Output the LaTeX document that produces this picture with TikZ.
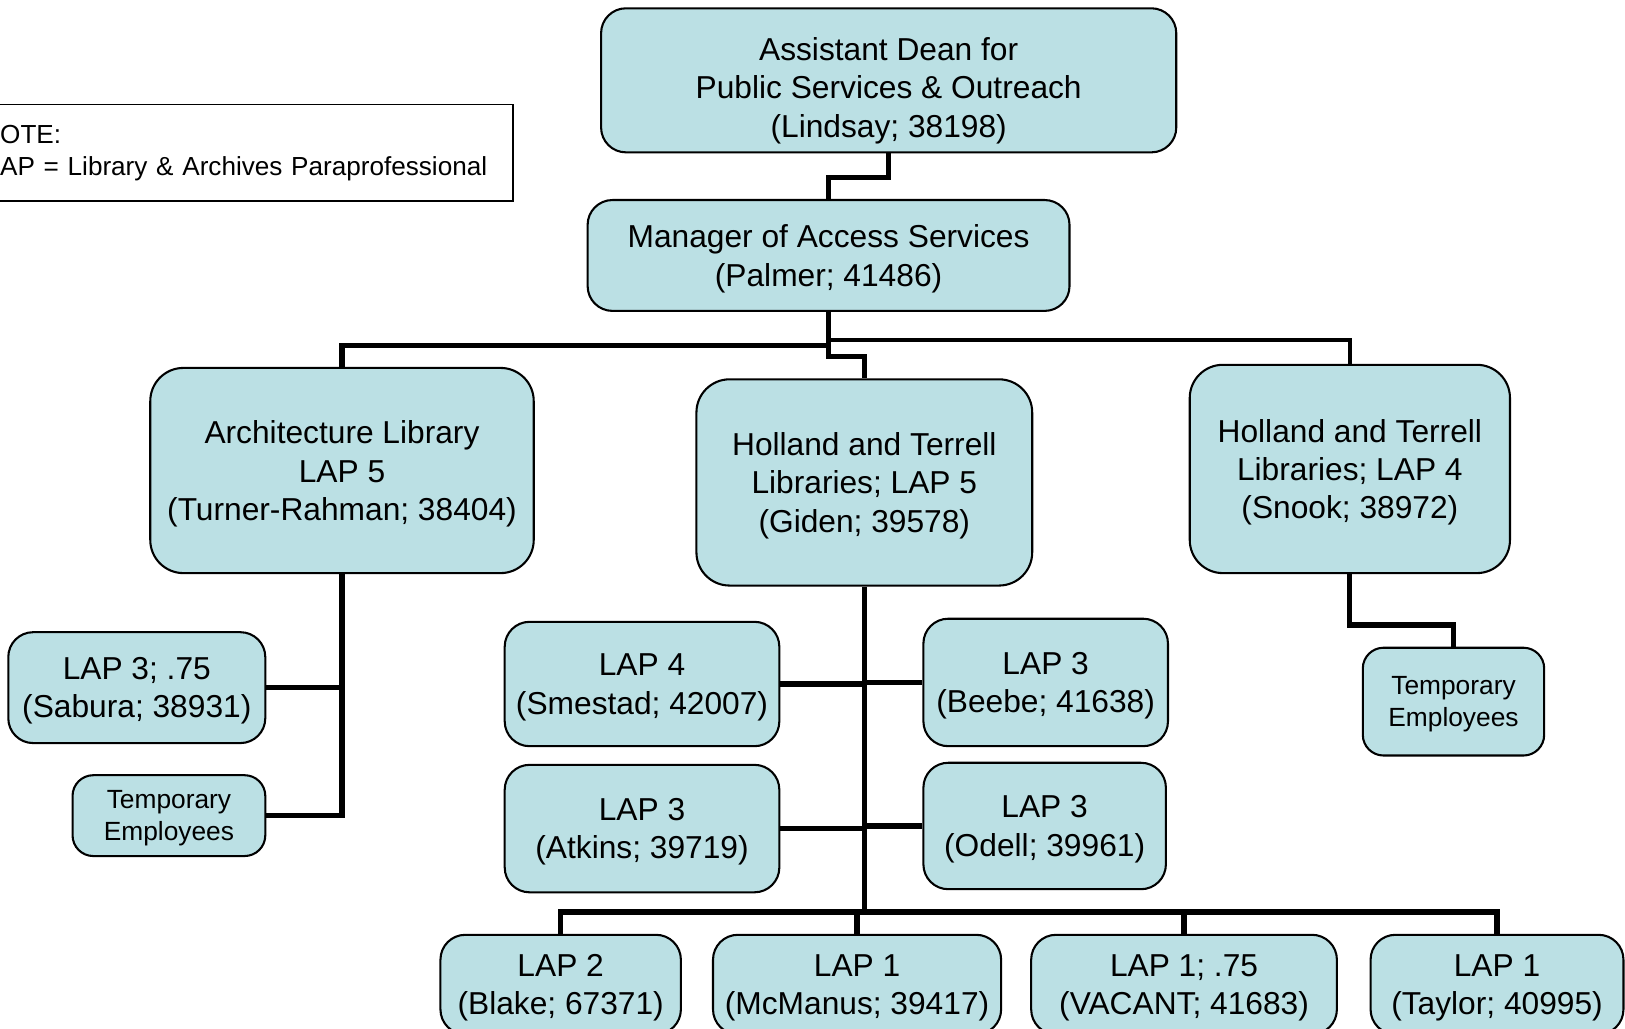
\documentclass[tikz,border=0pt]{standalone}
\usepackage{fontspec}
\setmainfont{Liberation Sans}
\usepackage{xcolor}
\usepackage{tikz}
\definecolor{boxfill}{RGB}{187,224,228}
\tikzset{box/.style={draw=black, line width=1pt, fill=boxfill, rounded corners=12pt, align=center, inner sep=2pt, text depth=0pt, font=\fontsize{15.3}{18.5}\selectfont},
%temporary employees boxes use a smaller font
small/.style={box, rounded corners=10pt, font=\fontsize{12.7}{15.5}\selectfont},
notebox/.style={draw=black, line width=0.8pt, text width=240pt, inner xsep=7.5pt, align=left, font=\fontsize{12.6}{15.5}\selectfont},
link/.style={line width=2.5pt}}

\begin{document}
\begin{tikzpicture}[x=0.5pt, y=-0.5pt]
\useasboundingbox (0,0) rectangle (1568,992);
\node[notebox, anchor=north east, minimum height=46.5pt] (note) at (496,100) {OTE:\\AP = Library \& Archives Paraprofessional};
\node[box, text height=55pt, minimum width=277.5pt, minimum height=69.5pt] (dean) at (857.5,77.5) {Assistant Dean for\\Public Services \& Outreach\\(Lindsay; 38198)};
\node[box, minimum width=232.5pt, minimum height=53.5pt] (manager) at (799.5,246.5) {Manager of Access Services\\(Palmer; 41486)};
\node[box, rounded corners=16pt, minimum width=185pt, minimum height=99pt] (arch) at (330,454) {Architecture Library\\LAP 5\\(Turner-Rahman; 38404)};
\node[box, rounded corners=16pt, minimum width=162pt, minimum height=99.5pt] (holland5) at (834,465.5) {Holland and Terrell\\Libraries; LAP 5\\(Giden; 39578)};
\node[box, rounded corners=16pt, minimum width=154.5pt, minimum height=100.5pt] (holland4) at (1302.5,452.5) {Holland and Terrell\\Libraries; LAP 4\\(Snook; 38972)};
\node[box, minimum width=124pt, minimum height=53.5pt] (sabura) at (132,663.5) {LAP 3; .75\\(Sabura; 38931)};
\node[small, minimum width=93pt, minimum height=39pt] (temp1) at (163,787) {Temporary\\Employees};
\node[small, minimum width=87.5pt, minimum height=52pt] (temp2) at (1402.5,677) {Temporary\\Employees};
\node[box, minimum width=132.5pt, minimum height=60pt] (smestad) at (619.5,660) {LAP 4\\(Smestad; 42007)};
\node[box, minimum width=118pt, minimum height=61.5pt] (beebe) at (1009,658.5) {LAP 3\\(Beebe; 41638)};
\node[box, minimum width=132.5pt, minimum height=61.5pt] (atkins) at (619.5,799.5) {LAP 3\\(Atkins; 39719)};
\node[box, minimum width=117pt, minimum height=61pt] (odell) at (1008,797) {LAP 3\\(Odell; 39961)};
\node[box, minimum width=116pt, minimum height=48pt] (blake) at (541,950) {LAP 2\\(Blake; 67371)};
\node[box, minimum width=139pt, minimum height=48pt] (mcmanus) at (827,950) {LAP 1\\(McManus; 39417)};
\node[box, minimum width=147.5pt, minimum height=48pt] (vacant) at (1142.5,950) {LAP 1; .75\\(VACANT; 41683)};
\node[box, minimum width=122pt, minimum height=48pt] (taylor) at (1444.5,950) {LAP 1\\(Taylor; 40995)};
\coordinate (hbus) at (834,880);
\draw[link] (dean.south) -- ++(0,23) -| (manager.north);
\draw[link] (manager.south) -- ++(0,32) -| (arch.north);
\draw[link, line width=2pt] (manager.south) -- ++(0,27) -| (holland4.north);
\draw[link] (manager.south) -- ++(0,43) -| (holland5.north);
\draw[link] (arch.south) |- (temp1.east);
\draw[link] (sabura.east) -- (sabura.east -| arch.south);
\draw[link] (holland5.south) -- (hbus);
\draw[link] (smestad.east) -- (smestad.east -| hbus);
\draw[link] (beebe.west) -- (beebe.west -| hbus);
\draw[link] (atkins.east) -- (atkins.east -| hbus);
\draw[link] (odell.west) -- (odell.west -| hbus);
\foreach \n in {blake,mcmanus,vacant,taylor}
  \draw[link] (hbus) -| (\n.north);
\draw[link] (holland4.south) -- ++(0,49) -| (temp2.north);
\end{tikzpicture}
\end{document}
